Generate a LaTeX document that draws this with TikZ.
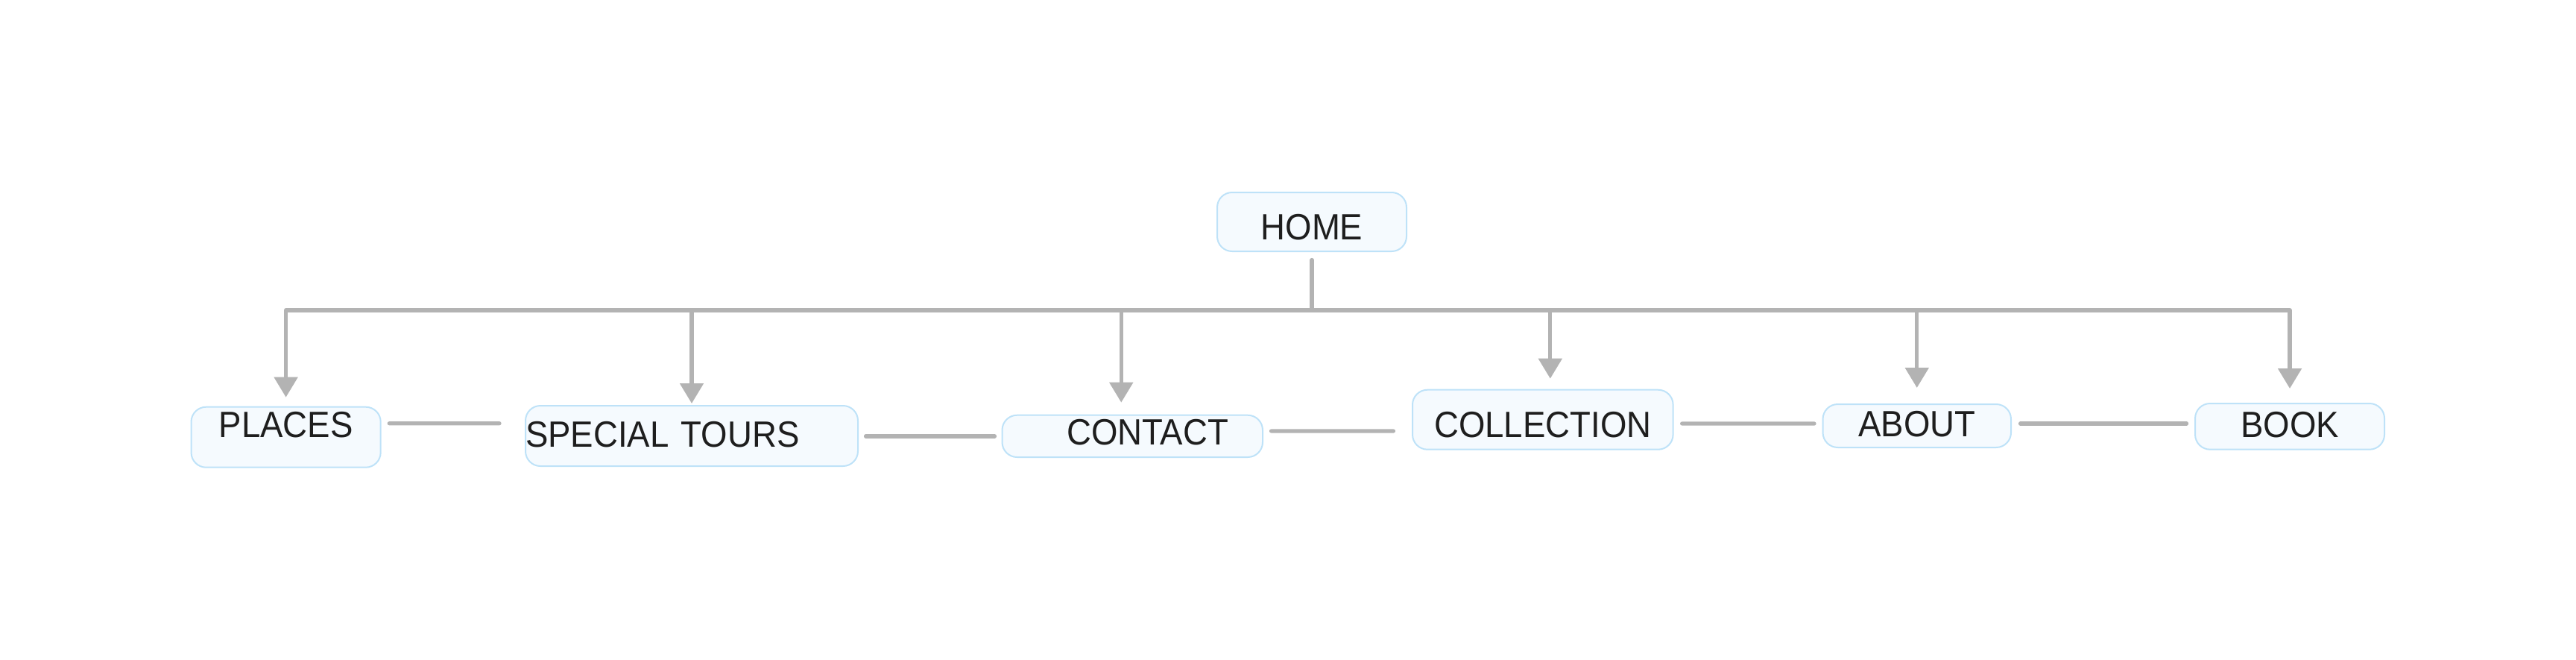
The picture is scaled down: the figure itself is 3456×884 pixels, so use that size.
\documentclass[tikz,border=0pt]{standalone}
\usepackage{fontspec}
\setmainfont{Liberation Sans}[FakeStretch=0.93]
\usetikzlibrary{arrows.meta,positioning,calc}
\definecolor{pagefill}{HTML}{F5FAFE}
\definecolor{pageline}{HTML}{BEE2F8}
\definecolor{linkgray}{HTML}{B3B3B3}
\definecolor{pagetext}{HTML}{1E1E1E}
\begin{document}
\begin{tikzpicture}[
    x=0.5pt, y=-0.5pt,
    page/.style={draw=pageline, line width=1pt, fill=pagefill, rounded corners=10pt, inner sep=0pt, align=center, text=pagetext, font=\fontsize{24.5pt}{29pt}\selectfont},
    link/.style={draw=linkgray, line width=2.6pt, line cap=round, line join=round},
    arr/.style={link, -{Triangle[width=15.5pt, length=13.5pt]}}
]
\useasboundingbox (0,0) rectangle (3456,884);

\node[page, text width=127pt, text height=31.5pt, text depth=8pt] (home) at (1760,297.5) {HOME};

\node[page, text width=127.1pt, text height=20.15pt, text depth=20.35pt] (places) at (383.6,586.2) {PLACES};
\node[page, align=left, text width=223pt, text height=27.5pt, text depth=13pt] (tours) at (928,584.5) {SPECIAL TOURS};
\node[page, align=right, inner xsep=23pt, text width=128.75pt, text height=20pt, text depth=8.15pt] (contact) at (1519.25,584.85) {CONTACT};
\node[page, text width=174.8pt, text height=32pt, text depth=8pt] (collection) at (2069.8,562.7) {COLLECTION};
\node[page, text width=126.25pt, text height=21.85pt, text depth=7.15pt] (about) at (2571.75,571) {ABOUT};
\node[page, text width=127pt, text height=22.85pt, text depth=8pt] (book) at (3072,571.85) {BOOK};

% tree from HOME
\coordinate (bus) at (1760,416);
\draw[link] ([yshift=-5.25pt]home.south) -- (bus);
\draw[arr, shorten >=6pt] (bus) -| (places.north);
\draw[arr, shorten >=1pt] (bus) -| (tours.north);
\draw[arr, shorten >=8pt] (bus) -| ([xshift=-7.5pt]contact.north);
\draw[arr, shorten >=7pt] (bus) -| ([xshift=5pt]collection.north);
\draw[arr, shorten >=10.5pt] (bus) -| (about.north);
\draw[arr, shorten >=9.5pt] (bus) -| (book.north);

% links between the pages
\draw[link] ([shift={(10.5,-18.5)}]places.east) -- ([shift={(-34,-16.8)}]tours.west);
\draw[link] ([shift={(9.5,0.5)}]tours.east) -- ([shift={(-9,0.15)}]contact.west);
\draw[link] ([shift={(10.5,-6.85)}]contact.east) -- ([shift={(-24.5,15.3)}]collection.west);
\draw[link] ([shift={(11,5.3)}]collection.east) -- ([shift={(-10.5,-3)}]about.west);
\draw[link] ([shift={(11.5,-3)}]about.east) -- ([shift={(-10.5,-3.85)}]book.west);
\end{tikzpicture}
\end{document}
